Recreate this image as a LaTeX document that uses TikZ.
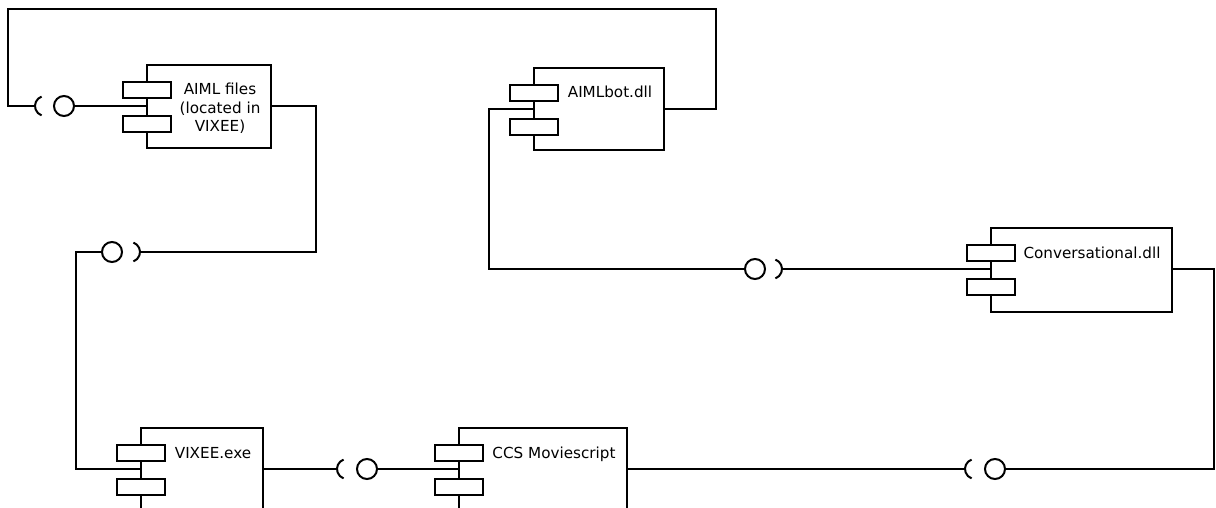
\documentclass[tikz,border=0pt]{standalone}
\usepackage{fontspec}
\setmainfont{DejaVu Sans}

\tikzset{
  wire/.style={line width=2pt},
  compbox/.style={draw, line width=2pt, fill=white, rectangle, inner sep=0pt, anchor=north west},
  comptab/.style={draw, line width=2pt, fill=white, rectangle, inner sep=0pt,
    minimum width=48pt, minimum height=16pt, anchor=north west},
  ball/.style={draw, line width=2pt, fill=white, circle, inner sep=0pt, minimum size=20pt},
  lbl/.style={font=\fontsize{15.2pt}{18.5pt}\selectfont, align=center, anchor=base, inner sep=0pt},
  sockl/.pic={\draw[wire] (110:10pt) arc[start angle=110, end angle=250, radius=10pt];
    \coordinate (-o) at (180:10pt);},
  sockr/.pic={\draw[wire] (70:10pt) arc[start angle=70, end angle=-70, radius=10pt];
    \coordinate (-o) at (0:10pt);}
}

\begin{document}
\begin{tikzpicture}[x=1pt, y=-1pt]
  \useasboundingbox (0,0) rectangle (1216,508);
  \clip (0,0) rectangle (1216,508);

  % Composants
  \node[compbox, minimum width=124pt, minimum height=83pt] (aiml) at (146,64) {};
  \node[compbox, minimum width=130pt, minimum height=82pt] (bot) at (533,67) {};
  \node[compbox, minimum width=181pt, minimum height=84pt] (conv) at (990,227) {};
  \node[compbox, minimum width=122pt, minimum height=90pt] (vix) at (140,427) {};
  \node[compbox, minimum width=168pt, minimum height=90pt] (ccs) at (458,427) {};

  % Onglets et points d'attache
  \foreach \c in {aiml,bot,conv,vix,ccs} {
    \node[comptab] (\c-t1) at ([shift={(-24pt,-17pt)}]\c.north west) {};
    \node[comptab] (\c-t2) at ([shift={(-24pt,-51pt)}]\c.north west) {};
    \coordinate (\c-w) at ([yshift=-42pt]\c.north west);
    \coordinate (\c-e) at ([yshift=-42pt]\c.north east);
  }

  % Etiquettes
  \node[lbl] (aiml-l) at (220,132) {AIML files\\(located in\\VIXEE)};
  \node[lbl] (bot-l) at (610,98) {AIMLbot.dll};
  \node[lbl] (conv-l) at (1092,258) {Conversational.dll};
  \node[lbl] (vix-l) at (213,458) {VIXEE.exe};
  \node[lbl] (ccs-l) at (554,458) {CCS Moviescript};

  % Interfaces fournies / requises
  \node[ball] (bA) at (64,106) {};
  \node[ball] (bB) at (112,252) {};
  \node[ball] (bC) at (755,269) {};
  \node[ball] (bD) at (995,469) {};
  \node[ball] (bE) at (367,469) {};
  \pic (sA) at (45,106) {sockl};
  \pic (sB) at (130,252) {sockr};
  \pic (sC) at (772,269) {sockr};
  \pic (sD) at (975,469) {sockl};
  \pic (sE) at (347,469) {sockl};

  % Liaisons
  \draw[wire] (sA-o) -| (8,9) -| (716,109) -- (bot-e);
  \draw[wire] (bA) -- (aiml-w);
  \draw[wire] (aiml-e) -| (316,252) -- (sB-o);
  \draw[wire] (bB) -| (76,469) -- (vix-w);
  \draw[wire] (bot-w) -| (489,269) -- (bC);
  \draw[wire] (sC-o) -- (conv-w);
  \draw[wire] (conv-e) -| (1214,469) -- (bD);
  \draw[wire] (sD-o) -- (ccs-e);
  \draw[wire] (vix-e) -- (sE-o);
  \draw[wire] (bE) -- (ccs-w);
\end{tikzpicture}
\end{document}
